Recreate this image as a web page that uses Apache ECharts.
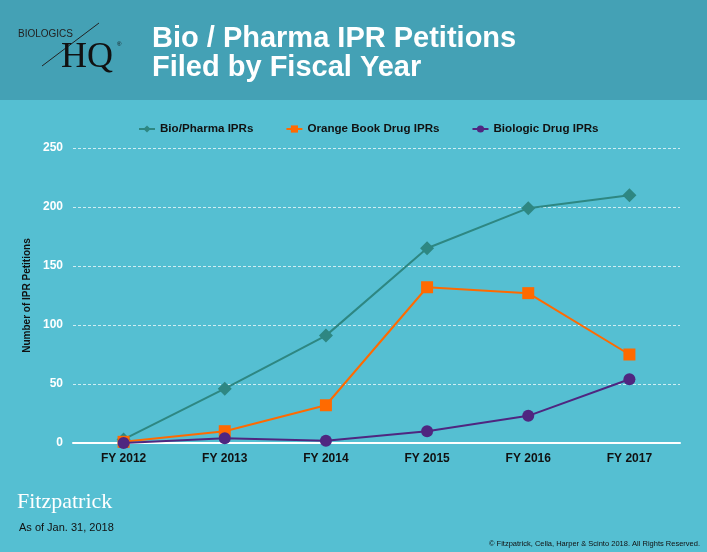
<!DOCTYPE html>
<html><head><meta charset="utf-8">
<script src="https://cdn.jsdelivr.net/npm/echarts@6/dist/echarts.min.js"></script>
<style>html,body{margin:0;padding:0;background:#55BFD2;}#c{width:707px;height:552px;}</style>
</head><body><div id="c"></div>
<script>
const categories = ['FY 2012','FY 2013','FY 2014','FY 2015','FY 2016','FY 2017'];
const bioPharma = [3, 46, 91, 165, 199, 210];
const orangeBook = [1, 10, 32, 132, 127, 75];
const biologic = [0, 4, 2, 10, 23, 54];
const yTicks = [0, 50, 100, 150, 200, 250];

const chart = echarts.init(document.getElementById('c'));
chart.setOption({
  backgroundColor: '#55BFD2',
  animation: false,
  title: {
    text: 'Bio / Pharma IPR Petitions\nFiled by Fiscal Year',
    left: 147, top: 20,
    textStyle: {color:'#ffffff', fontFamily:'Liberation Sans', fontWeight:'bold', fontSize:29, lineHeight:28.5}
  },
  legend: {
    top: 118, left: 133,
    itemWidth: 16, itemHeight: 9, itemGap: 32,
    textStyle: {color:'#111', fontFamily:'Liberation Sans', fontWeight:'bold', fontSize:11.6},
    data: ['Bio/Pharma IPRs','Orange Book Drug IPRs','Biologic Drug IPRs']
  },
  grid: {left:73, right:27, top:148, bottom:109},
  xAxis: {
    type:'category', data: categories, boundaryGap:true,
    axisLine:{lineStyle:{color:'#ffffff', width:2}},
    axisTick:{show:false},
    axisLabel:{color:'#111', fontFamily:'Liberation Sans', fontWeight:'bold', fontSize:12, margin:10}
  },
  yAxis: {
    type:'value', min:0, max:250, interval:50,
    name:'Number of IPR Petitions', nameLocation:'middle', nameGap:36, nameRotate:90,
    nameTextStyle:{color:'#111', fontFamily:'Liberation Sans', fontWeight:'bold', fontSize:10},
    axisLine:{show:false}, axisTick:{show:false},
    axisLabel:{color:'#ffffff', fontFamily:'Liberation Sans', fontWeight:'bold', fontSize:12, margin:10,
      formatter: v => yTicks.includes(v) ? String(v) : ''},
    splitLine:{lineStyle:{color:'rgba(255,255,255,0.72)', type:[3,2], width:1}}
  },
  series: [
    {name:'Bio/Pharma IPRs', type:'line', data: bioPharma, symbol:'diamond', symbolSize:14,
      lineStyle:{color:'#2E8782', width:2}, itemStyle:{color:'#2E8782'}, z:3},
    {name:'Orange Book Drug IPRs', type:'line', data: orangeBook, symbol:'rect', symbolSize:12,
      lineStyle:{color:'#FF6A00', width:2}, itemStyle:{color:'#FF6A00'}, z:4},
    {name:'Biologic Drug IPRs', type:'line', data: biologic, symbol:'circle', symbolSize:12,
      lineStyle:{color:'#4F2680', width:2}, itemStyle:{color:'#4F2680'}, z:5}
  ],
  graphic: [
    {type:'rect', z:-10, shape:{x:0,y:0,width:707,height:100}, style:{fill:'#44A1B5'}, silent:true},
    {type:'text', left:18, top:29, style:{text:'BIOLOGICS', fill:'#222', font:'10px "Liberation Sans"'}},
    {type:'line', shape:{x1:42,y1:66,x2:99,y2:23}, style:{stroke:'#222', lineWidth:1}},
    {type:'text', left:61, top:40, style:{text:'HQ', fill:'#111', font:'36px "Liberation Serif"'}},
    {type:'text', left:117, top:41, style:{text:'®', fill:'#111', font:'6px "Liberation Sans"'}},
    {type:'text', left:17, top:491, style:{text:'Fitzpatrick', fill:'#ffffff', font:'22px "Liberation Serif"'}},
    {type:'text', left:19, top:522, style:{text:'As of Jan. 31, 2018', fill:'#111', font:'11px "Liberation Sans"'}},
    {type:'text', right:7, top:540, style:{text:'© Fitzpatrick, Cella, Harper & Scinto 2018. All Rights Reserved.', fill:'#111', font:'7.5px "Liberation Sans"'}}
  ]
});
</script>
</body></html>
